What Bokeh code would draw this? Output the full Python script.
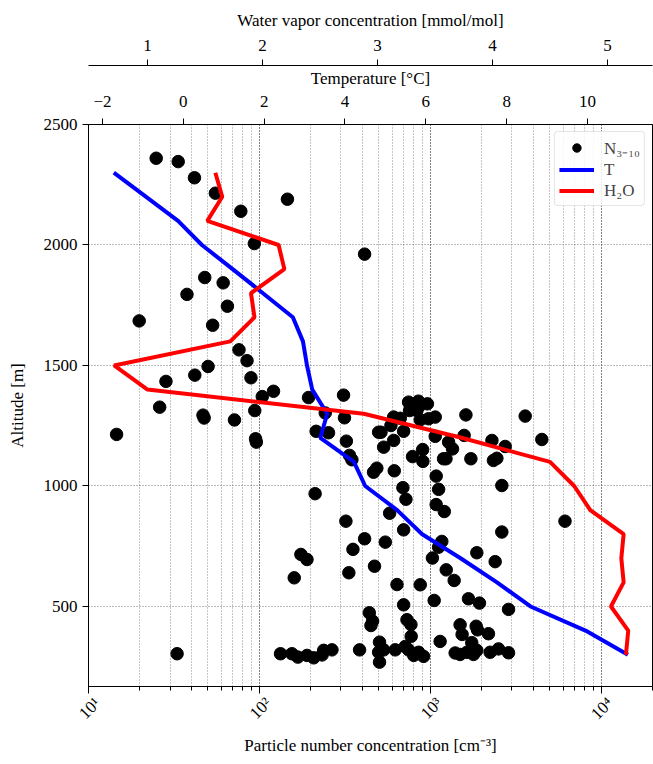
import math
from bokeh.plotting import figure
from bokeh.models import (Range1d, LinearAxis, LogAxis, FixedTicker, Legend, LegendItem,
                          LinearScale, LogScale, CustomJSTickFormatter, ColumnDataSource)
from bokeh.embed import file_html
from bokeh.resources import INLINE

# ---------------- data ----------------
n_conc = [24.9, 33.5, 41.7, 55.3, 146, 77.9, 93.5, 413, 47.9, 61.4, 37.7, 65, 19.8, 53.3,
          76, 84.7, 50.1, 41.9, 89.3, 28.4, 121, 104, 194, 311, 26.1, 46.8, 47.5, 71.5, 94,
          315, 243, 95, 96, 14.6, 33, 212, 215, 254, 323, 337, 348, 466, 487, 499, 321, 413,
          353, 175, 190, 334, 160, 472, 440, 460, 450, 133, 155, 168, 190, 208, 233, 238,
          266, 386, 505, 499, 505, 534, 624, 714, 747, 801, 855, 914, 1400, 1496, 1640,
          1792, 1874, 2243, 2510, 2874, 747, 853, 963, 757, 836, 862, 611, 668, 1070, 977,
          874, 1618, 3597, 515, 589, 699, 611, 534, 1070, 1580, 2297, 2748, 4500, 1281,
          1351, 903, 906, 788, 1197, 1237, 1730, 2345, 2455, 616, 1084, 2625, 692, 721,
          1120, 1084, 1209, 579, 6150, 2625, 699, 546, 1169, 1120, 1030, 1874, 2400, 1241,
          1381, 639, 874, 1055, 699, 1675, 1942, 2874, 731, 771, 774, 1143, 1496, 1537,
          1858, 1890, 2192, 1750]
n_alt = [2360, 2346, 2279, 2215, 2190, 2140, 2006, 1962, 1865, 1843, 1795, 1746, 1685, 1667,
         1565, 1520, 1496, 1460, 1449, 1434, 1393, 1371, 1367, 1377, 1327, 1294, 1282, 1274,
         1313, 1283, 1303, 1196, 1182, 1214, 304, 968, 1227, 1221, 1186, 1127, 1109, 1057,
         1074, 1223, 854, 781, 737, 716, 695, 640, 619, 667, 474, 439, 421, 304, 304, 290,
         297, 287, 299, 318, 320, 320, 352, 310, 269, 320, 320, 334, 320, 297, 310, 293,
         307, 301, 310, 301, 318, 310, 324, 308, 1348, 1352, 1341, 1313, 1313, 1331, 1286,
         1281, 1286, 1279, 1275, 1295, 1290, 1223, 1251, 1227, 1189, 1161, 1206, 1210, 1189,
         1164, 1193, 1182, 1154, 1151, 1102, 1122, 1113, 1113, 1113, 1106, 1115, 1063, 1041,
         1002, 993, 945, 986, 923, 894, 887, 854, 809, 818, 767, 770, 746, 701, 723, 686,
         652, 608, 591, 590, 525, 507, 532, 514, 488, 445, 425, 376, 355, 424, 384, 418,
         403, 387, 350]

profile_alt = [2300, 2200, 2100, 2000, 1900, 1800, 1700, 1600, 1500, 1400, 1300, 1200, 1100,
               1000, 900, 800, 700, 600, 500, 400, 300]
temperature = [-1.72, -0.92, -0.13, 0.46, 1.22, 1.97, 2.71, 2.96, 3.06, 3.19, 3.56, 3.39, 4.22,
               4.50, 5.29, 5.91, 6.86, 7.76, 8.59, 9.95, 11.0]
water_vapor = [1.59, 1.65, 1.52, 2.14, 2.19, 1.90, 1.93, 1.72, 0.71, 1.00, 2.88, 3.73, 4.50,
               4.71, 4.85, 5.14, 5.12, 5.14, 5.03, 5.18, 5.16]

x_ticks = [10, 100, 1000, 10000]
y_ticks = [500, 1000, 1500, 2000, 2500]
t_ticks = [-2, 0, 2, 4, 6, 8, 10]
w_ticks = [1, 2, 3, 4, 5]

FONT = "Liberation Serif"
FS = "17px"

W, H = 653, 764
BL, BR, BT, BB = 88, 1, 124, 78
x_start, x_end = 10, 2e4
y_start, y_end = 168, 2500

p = figure(width=W, height=H, x_axis_type="log",
           x_range=Range1d(x_start, x_end), y_range=Range1d(y_start, y_end),
           output_backend="svg", toolbar_location=None,
           min_border_left=BL, min_border_right=BR, min_border_top=BT, min_border_bottom=BB)

# a log range shifted a few pixels, used only to centre the rotated tick labels on their ticks
decade_px = (W - BL - BR) / math.log10(x_end / x_start)
shift = 10 ** (9 / decade_px)
p.extra_x_ranges = {"temp": Range1d(-2.346, 11.608), "h2o": Range1d(0.487, 5.391),
                    "lab": Range1d(x_start / shift, x_end / shift)}
p.extra_x_scales = {"temp": LinearScale(), "h2o": LinearScale(), "lab": LogScale()}

p.outline_line_color = "black"
p.outline_line_width = 1
p.outline_line_alpha = 1

# grids
for attr in ("grid", "minor_grid"):
    setattr(p.xgrid, attr + "_line_color", "#555555")
    setattr(p.xgrid, attr + "_line_dash", "1 2")
    setattr(p.xgrid, attr + "_line_width", 0.8)
p.xgrid.minor_grid_line_alpha = 0.85
p.ygrid.grid_line_color = "#555555"
p.ygrid.grid_line_dash = "1 2"
p.ygrid.grid_line_width = 0.8
p.ygrid.ticker = FixedTicker(ticks=y_ticks)

# bottom axis: ticks only
bx = p.below[0]
bx.major_tick_out = 7
bx.major_tick_in = 0
bx.minor_tick_out = 4
bx.minor_tick_in = 0
bx.formatter = CustomJSTickFormatter(code="return '';")
bx.major_label_standoff = 0

# bottom labels + title
bx2 = LogAxis(x_range_name="lab", ticker=FixedTicker(ticks=x_ticks, minor_ticks=[]),
              axis_label="Particle number concentration [cm\u207b\u00b3]")
bx2.formatter = CustomJSTickFormatter(code="""
const sup = {'0':'\u2070','1':'\u00b9','2':'\u00b2','3':'\u00b3','4':'\u2074','5':'\u2075','-':'\u207b'};
const e = Math.round(Math.log10(tick));
return '10' + String(e).split('').map(c => sup[c]).join('');
""")
bx2.major_label_orientation = math.pi / 4
bx2.axis_line_color = None
bx2.major_tick_line_color = None
bx2.minor_tick_line_color = None
bx2.major_tick_out = 0
bx2.major_tick_in = 0
bx2.major_label_standoff = 7
bx2.axis_label_standoff = 3
p.add_layout(bx2, "below")

# left axis
ly = p.left[0]
ly.axis_label = "Altitude [m]"
ly.ticker = FixedTicker(ticks=y_ticks, minor_ticks=[])
ly.major_tick_out = 6
ly.major_tick_in = 0

# top axes
ax_t = LinearAxis(x_range_name="temp", axis_label="Temperature [\u00b0C]",
                  ticker=FixedTicker(ticks=t_ticks, minor_ticks=[]))
ax_t.formatter = CustomJSTickFormatter(code="return tick < 0 ? '\u2212' + Math.abs(tick) : String(tick);")
ax_w = LinearAxis(x_range_name="h2o", axis_label="Water vapor concentration [mmol/mol]",
                  ticker=FixedTicker(ticks=w_ticks, minor_ticks=[]))
for ax in (ax_t, ax_w):
    ax.major_tick_out = 6
    ax.major_tick_in = 0
p.add_layout(ax_t, "above")
p.add_layout(ax_w, "above")

for ax in (bx, bx2, ly, ax_t, ax_w):
    if ax is not bx2:
        ax.axis_line_color = "black"
        ax.major_tick_line_color = "black"
        ax.minor_tick_line_color = "black"
    ax.major_label_text_font = FONT
    ax.major_label_text_font_size = FS
    ax.major_label_text_color = "black"
    ax.axis_label_text_font = FONT
    ax.axis_label_text_font_size = FS
    ax.axis_label_text_font_style = "normal"
    ax.axis_label_text_color = "black"
ly.axis_label_standoff = 14
ax_t.major_label_standoff = 12
ax_t.axis_label_standoff = 5
ax_w.major_label_standoff = 9
ax_w.axis_label_standoff = 7

# marks
src_n = ColumnDataSource(dict(x=n_conc, y=n_alt))
sc = p.scatter("x", "y", source=src_n, size=12.5, color="black", marker="circle")
src_t = ColumnDataSource(dict(x=temperature, y=profile_alt))
lt = p.line("x", "y", source=src_t, x_range_name="temp", color="#0000ff", line_width=4)
src_w = ColumnDataSource(dict(x=water_vapor, y=profile_alt))
lw = p.line("x", "y", source=src_w, x_range_name="h2o", color="#ff0000", line_width=4)

legend = Legend(items=[LegendItem(label="N\u2083\u208b\u2081\u2080", renderers=[sc]),
                       LegendItem(label="T", renderers=[lt]),
                       LegendItem(label="H\u2082O", renderers=[lw])],
                location="top_right")
legend.label_text_font = FONT
legend.label_text_font_size = FS
legend.border_line_color = "#cccccc"
legend.background_fill_alpha = 0.85
legend.glyph_width = 35
legend.glyph_height = 21
legend.label_standoff = 10
legend.spacing = 0
legend.padding = 4
legend.margin = 7
if "border_radius" in legend.properties():
    legend.border_radius = 4
p.add_layout(legend)

open("out.html", "w").write(file_html(p, INLINE))
